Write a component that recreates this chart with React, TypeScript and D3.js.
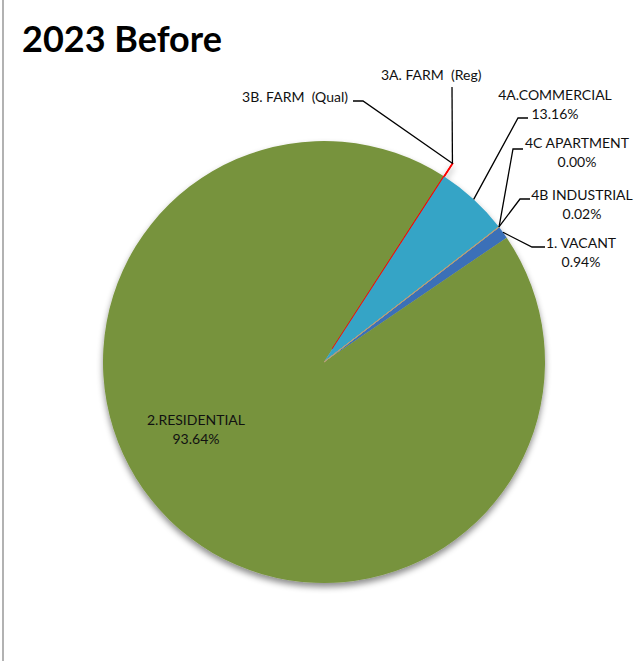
import React from "react";
import * as d3 from "d3";

// ---- data ----
const categories = [
  "1. VACANT",
  "2.RESIDENTIAL",
  "3A. FARM  (Reg)",
  "3B. FARM  (Qual)",
  "4A.COMMERCIAL",
  "4B INDUSTRIAL",
  "4C APARTMENT",
];
// share of the pie as drawn (percent)
const sliceValues = [0.94, 93.64, 0.02, 0.01, 5.37, 0.02, 0.0];
// percent text printed on the labels
const percentLabels = ["0.94%", "93.64%", "", "", "13.16%", "0.02%", "0.00%"];
const chartTitle = "2023 Before";

// ---- styles / layout ----
const W = 640;
const H = 661;
const CX = 324;
const CY = 362;
const R = 221;
const START_DEG = 52.37;
const EXPLODE: Record<string, number> = { "3A. FARM  (Reg)": 15.5, "3B. FARM  (Qual)": 15.5 };

const fills: Record<string, string> = {
  "1. VACANT": "url(#gVacant)",
  "2.RESIDENTIAL": "#77933C",
  "3A. FARM  (Reg)": "#FF0000",
  "3B. FARM  (Qual)": "#FF0000",
  "4A.COMMERCIAL": "url(#gComm)",
  "4B INDUSTRIAL": "#C0A878",
  "4C APARTMENT": "#C0A878",
};
const strokes: Record<string, string> = {
  "3A. FARM  (Reg)": "#FF0000",
  "3B. FARM  (Qual)": "#FF0000",
  "4B INDUSTRIAL": "#B8A07A",
  "4C APARTMENT": "#B8A07A",
};

type LabelLayout = {
  name: string;
  x: number;
  y: number;
  anchor: "start" | "middle" | "end";
  leader?: [number, number][];
};
const labelLayout: LabelLayout[] = [
  { name: "3A. FARM  (Reg)", x: 381, y: 80, anchor: "start", leader: [[452, 87]] },
  { name: "3B. FARM  (Qual)", x: 348, y: 102, anchor: "end", leader: [[353, 101], [363, 101]] },
  { name: "4A.COMMERCIAL", x: 555, y: 100, anchor: "middle", leader: [[528, 118], [518, 118]] },
  { name: "4C APARTMENT", x: 577, y: 148, anchor: "middle", leader: [[523, 149], [513, 149]] },
  { name: "4B INDUSTRIAL", x: 582, y: 200, anchor: "middle", leader: [[530, 199], [520, 199]] },
  { name: "1. VACANT", x: 581, y: 248, anchor: "middle", leader: [[545, 247], [532, 247]] },
  { name: "2.RESIDENTIAL", x: 196, y: 425, anchor: "middle" },
];

export default function App() {
  const data = categories.map((c, i) => ({ name: c, value: sliceValues[i], pct: percentLabels[i] }));
  const start = (START_DEG * Math.PI) / 180;
  const pie = d3
    .pie<{ name: string; value: number; pct: string }>()
    .sort(null)
    .value((d) => d.value)
    .startAngle(start)
    .endAngle(start + 2 * Math.PI);
  const arcs = pie(data);
  const arc = d3.arc<d3.PieArcDatum<any>>().innerRadius(0).outerRadius(R);

  const offsetOf = (a: d3.PieArcDatum<any>) => {
    const e = EXPLODE[a.data.name] || 0;
    const m = (a.startAngle + a.endAngle) / 2;
    return [e * Math.sin(m), -e * Math.cos(m)];
  };
  const rimPoint = (a: d3.PieArcDatum<any>) => {
    const e = EXPLODE[a.data.name] || 0;
    const m = (a.startAngle + a.endAngle) / 2;
    return [CX + (R + e) * Math.sin(m), CY - (R + e) * Math.cos(m)];
  };

  const font = "Lato, 'Open Sans', sans-serif";

  return (
    <svg
      width={W}
      height={H}
      style={{ position: "absolute", left: 0, top: 0, background: "#fff" }}
    >
      <defs>
        <radialGradient id="gComm" gradientUnits="userSpaceOnUse" cx={CX} cy={CY} r={R}>
          <stop offset="0" stopColor="#2A82A0" />
          <stop offset="1" stopColor="#36A4C6" />
        </radialGradient>
        <radialGradient id="gVacant" gradientUnits="userSpaceOnUse" cx={CX} cy={CY} r={R}>
          <stop offset="0" stopColor="#2E5E9E" />
          <stop offset="1" stopColor="#3B70B8" />
        </radialGradient>
        <filter id="shadow" x="-10%" y="-10%" width="120%" height="125%">
          <feDropShadow dx="0" dy="4" stdDeviation="3" floodColor="#000" floodOpacity="0.45" />
        </filter>
      </defs>
      <rect x={0} y={0} width={W} height={H} fill="#fff" />
      <line x1={3} y1={0} x2={3} y2={H} stroke="#999" strokeWidth={1.5} />

      <text x={22} y={52} fontFamily={font} fontWeight={700} fontSize={36} fill="#000">
        {chartTitle}
      </text>

      <g transform={`translate(${CX},${CY})`} filter="url(#shadow)">
        {arcs.map((a, i) => {
          const [ox, oy] = offsetOf(a);
          const s = strokes[a.data.name];
          return (
            <path
              key={i}
              d={arc(a) || ""}
              transform={`translate(${ox},${oy})`}
              fill={fills[a.data.name]}
              stroke={s || "none"}
              strokeWidth={s ? (s === "#FF0000" ? 1.3 : 0.8) : 0}
            />
          );
        })}
      </g>

      {labelLayout.map((l, i) => {
        const a = arcs.find((d) => d.data.name === l.name)!;
        const pts = l.leader ? [...l.leader, rimPoint(a)] : null;
        return (
          <g key={i}>
            {pts && (
              <path
                d={d3.line()(pts as [number, number][]) || ""}
                fill="none"
                stroke="#000"
                strokeWidth={1.3}
              />
            )}
            <text x={l.x} y={l.y} textAnchor={l.anchor} fontFamily={font} fontSize={14} fill="#111">
              {l.name.replace(/ /g, "\u00a0")}
            </text>
            {a.data.pct && (
              <text x={l.x} y={l.y + 19} textAnchor={l.anchor} fontFamily={font} fontSize={14} fill="#111">
                {a.data.pct}
              </text>
            )}
          </g>
        );
      })}
    </svg>
  );
}
